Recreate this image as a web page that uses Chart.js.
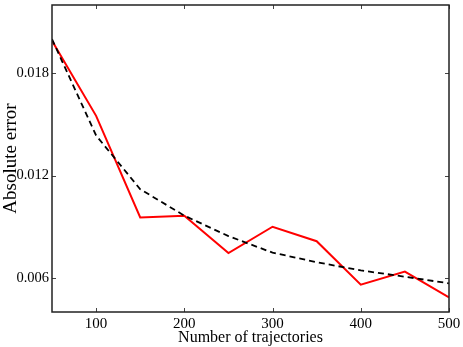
<!DOCTYPE html>
<html>
<head>
<meta charset="utf-8">
<script src="https://cdn.jsdelivr.net/npm/chart.js@4/dist/chart.umd.min.js"></script>
<style>
    html, body { margin: 0; padding: 0; background: #fff; }
    #wrap { width: 463px; height: 347px; }
</style>
</head>
<body>
<div id="wrap"><canvas id="errorChart"></canvas></div>
<script>
// Data
const trajectories = [50, 100, 150, 200, 250, 300, 350, 400, 450, 500];
const measuredError = [0.01990, 0.01550, 0.00954, 0.00964, 0.00746, 0.00900, 0.00815, 0.00560, 0.00637, 0.00486];
const referenceError = [0.02000, 0.01435, 0.01120, 0.00965, 0.00845, 0.00748, 0.00692, 0.00644, 0.00607, 0.00568];
const xTicks = [100, 200, 300, 400, 500];
const yTicks = [0.006, 0.012, 0.018];

// Frame around the plot plus small inward ticks on all four sides
const framePlugin = {
    id: 'frame',
    afterDatasetsDraw(chart) {
        const ctx = chart.ctx;
        const a = chart.chartArea;
        const xs = chart.scales.x, ys = chart.scales.y;
        ctx.save();
        ctx.strokeStyle = '#444';
        ctx.lineWidth = 1;
        xTicks.forEach(v => {
            const px = Math.round(xs.getPixelForValue(v)) + 0.5;
            ctx.beginPath();
            ctx.moveTo(px, a.bottom); ctx.lineTo(px, a.bottom - 4);
            ctx.moveTo(px, a.top); ctx.lineTo(px, a.top + 4);
            ctx.stroke();
        });
        yTicks.forEach(v => {
            const py = Math.round(ys.getPixelForValue(v)) + 0.5;
            ctx.beginPath();
            ctx.moveTo(a.left, py); ctx.lineTo(a.left + 4, py);
            ctx.moveTo(a.right, py); ctx.lineTo(a.right - 4, py);
            ctx.stroke();
        });
        ctx.strokeStyle = '#222';
        ctx.lineWidth = 1.5;
        ctx.strokeRect(a.left, a.top, a.right - a.left, a.bottom - a.top);
        ctx.restore();
    }
};

document.addEventListener('DOMContentLoaded', function() {
    Chart.defaults.font.family = '"Liberation Serif", "DejaVu Serif", serif';
    Chart.defaults.color = '#000';

    new Chart(document.getElementById('errorChart').getContext('2d'), {
        type: 'line',
        data: {
            labels: trajectories,
            datasets: [{
                label: 'Reference',
                data: trajectories.map((t, i) => ({ x: t, y: referenceError[i] })),
                borderColor: '#000',
                borderWidth: 1.8,
                borderDash: [6, 4],
                pointRadius: 0,
                fill: false,
                tension: 0,
                order: 0
            }, {
                label: 'Measured',
                data: trajectories.map((t, i) => ({ x: t, y: measuredError[i] })),
                borderColor: '#ff0000',
                borderWidth: 2,
                pointRadius: 0,
                fill: false,
                tension: 0,
                order: 1
            }]
        },
        options: {
            responsive: true,
            maintainAspectRatio: false,
            animation: false,
            layout: { padding: { left: 0, top: 5, right: 14, bottom: 0 } },
            plugins: {
                legend: { display: false },
                tooltip: { enabled: false }
            },
            scales: {
                x: {
                    type: 'linear',
                    min: 50,
                    max: 500,
                    afterBuildTicks: s => { s.ticks = xTicks.map(v => ({ value: v })); },
                    afterFit: s => {
                        s.height = 35;
                        s.paddingLeft = 0;
                        s.paddingRight = 0;
                    },
                    grid: { display: false, drawTicks: false },
                    border: { display: false },
                    ticks: { font: { size: 15 }, padding: 3, maxRotation: 0 },
                    title: {
                        display: true,
                        text: 'Number of trajectories',
                        font: { size: 16 },
                        padding: 0
                    }
                },
                y: {
                    type: 'linear',
                    min: 0.004,
                    max: 0.022,
                    afterBuildTicks: s => { s.ticks = yTicks.map(v => ({ value: v })); },
                    afterFit: s => {
                        s.width = 52;
                        s.paddingTop = 0;
                        s.paddingBottom = 0;
                    },
                    grid: { display: false, drawTicks: false },
                    border: { display: false },
                    ticks: {
                        font: { size: 14.5 },
                        padding: 3,
                        callback: v => v.toFixed(3)
                    },
                    title: {
                        display: true,
                        text: 'Absolute error',
                        font: { size: 19 },
                        padding: 0
                    }
                }
            }
        },
        plugins: [framePlugin]
    });
});
</script>
</body>
</html>
